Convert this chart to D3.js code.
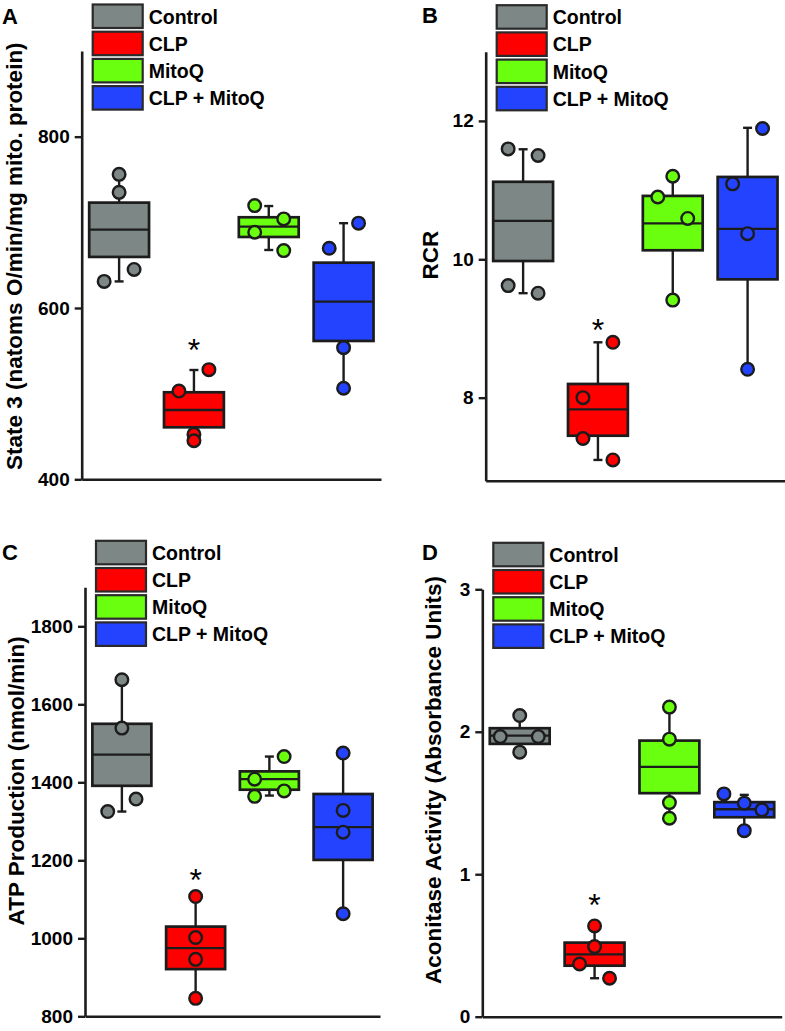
<!DOCTYPE html>
<html>
<head>
<meta charset="utf-8">
<script src="https://cdn.jsdelivr.net/npm/d3@7"></script>
<style>
  body { margin: 0; background: #fff; }
  svg { display: block; font-family: "Liberation Sans", Arial, sans-serif; font-weight: bold; }
</style>
</head>
<body>
<svg id="fig" width="785" height="1031"></svg>
<script>
const groups = ["Control", "CLP", "MitoQ", "CLP + MitoQ"];
const palette = ["#7d8785", "#fe0000", "#69ff0e", "#2443ff"];

// box stats per group: [q1, median, q3], whiskers [min, max]
const state3Box = [[659.6, 691.4, 723], [460.7, 480.9, 501.6], [682.9, 695, 705.9], [561.5, 607.4, 652.9]];
const state3Whisker = [[631, 756], [445, 527.6], [667.7, 719], [506.3, 699]];
const state3Points = [[756, 735, 645, 631], [528, 503, 452.5, 445], [719.5, 704, 688.4, 667], [699, 669.7, 553.7, 506.3]];
const state3Spread = [[0, 0, 0.5, -0.5], [0.5, -0.5, 0, 0], [-0.47, 0.5, -0.47, 0.5], [0.5, -0.48, 0, 0]];
const state3Ticks = [400, 600, 800];

const rcrBox = [[9.975, 10.555, 11.12], [7.45, 7.83, 8.198], [10.13, 10.52, 10.916], [9.71, 10.44, 11.19]];
const rcrWhisker = [[9.51, 11.59], [7.1, 8.8], [9.41, 11.195], [8.41, 11.9]];
const rcrPoints = [[11.595, 11.5, 9.62, 9.51], [8.8, 8.0, 7.41, 7.1], [11.2, 10.9, 10.59, 9.41], [11.89, 11.09, 10.37, 8.41]];
const rcrSpread = [[-0.5, 0.5, -0.5, 0.5], [0.5, -0.5, -0.5, 0.5], [0, -0.5, 0.5, 0], [0.5, -0.5, 0, 0]];
const rcrTicks = [8, 10, 12];

const atpBox = [[1391, 1471, 1550], [921, 975, 1030], [1381, 1408, 1428], [1201, 1285, 1370]];
const atpWhisker = [[1325, 1663], [846, 1107], [1366, 1466], [1063, 1475]];
const atpPoints = [[1663, 1539, 1357, 1325], [1107, 1002, 946, 846], [1466, 1408, 1378, 1364], [1475, 1328, 1272, 1063]];
const atpSpread = [[0, 0, 0.48, -0.48], [0, 0, 0, 0], [0.5, -0.5, 0.5, -0.5], [0, 0, 0, 0]];
const atpTicks = [800, 1000, 1200, 1400, 1600, 1800];

const aconBox = [[1.915, 1.973, 2.025], [0.358, 0.438, 0.52], [1.569, 1.753, 1.938], [1.40, 1.456, 1.506]];
const aconWhisker = [[1.857, 2.114], [0.27, 0.637], [1.393, 2.173], [1.306, 1.557]];
const aconPoints = [[2.114, 1.966, 1.966, 1.857], [0.637, 0.492, 0.37, 0.27], [2.173, 1.948, 1.503, 1.393], [1.564, 1.499, 1.452, 1.306]];
const aconSpread = [[0, -0.65, 0.62, 0], [0, 0, -0.5, 0.5], [0, 0, 0, 0], [-0.68, 0, 0.59, 0]];
const aconTicks = [0, 1, 2, 3];

// asterisk above CLP, in data units
const starLevel = [560, 9.1, 1171, 0.843];

const svg = d3.select("#fig");
const INK = "#1c1c1c";

function drawPanel(p) {
  const g = svg.append("g");
  const y = d3.scaleLinear().domain(p.domain).range([p.bottom, p.top]);
  const x = d3.scaleBand().domain(groups).range([p.left, p.right]).paddingInner(0.2).paddingOuter(0.1);
  const bw = x.bandwidth();

  // axes
  const ya = g.append("g").attr("transform", `translate(${p.left},0)`)
    .call(d3.axisLeft(y).tickValues(p.ticks).tickFormat(d3.format("d")).tickSize(7).tickPadding(5).tickSizeOuter(0));
  const xa = g.append("g").attr("transform", `translate(0,${p.bottom})`)
    .call(d3.axisBottom(x).tickSize(0).tickFormat("").tickSizeOuter(0));
  [ya, xa].forEach(a => {
    a.attr("font-size", "19px").attr("font-family", null);
    a.select(".domain").attr("stroke", INK).attr("stroke-width", 2.6);
    a.selectAll(".tick line").attr("stroke", INK).attr("stroke-width", 2.4);
    a.selectAll(".tick text").attr("fill", "#000");
  });

  groups.forEach((name, i) => {
    const cx = x(name) + bw / 2;
    const [q1, med, q3] = p.box[i];
    const [lo, hi] = p.whisker[i];
    const cg = g.append("g");
    cg.append("line").attr("x1", cx).attr("x2", cx).attr("y1", y(q3)).attr("y2", y(hi))
      .attr("stroke", INK).attr("stroke-width", 2.4);
    cg.append("line").attr("x1", cx).attr("x2", cx).attr("y1", y(q1)).attr("y2", y(lo))
      .attr("stroke", INK).attr("stroke-width", 2.4);
    [lo, hi].forEach(v => cg.append("line").attr("x1", cx - 4.5).attr("x2", cx + 4.5)
      .attr("y1", y(v)).attr("y2", y(v)).attr("stroke", INK).attr("stroke-width", 2.4));
    cg.append("rect").attr("x", x(name)).attr("width", bw)
      .attr("y", y(q3)).attr("height", y(q1) - y(q3))
      .attr("fill", palette[i]).attr("stroke", INK).attr("stroke-width", 2.7);
    cg.append("line").attr("x1", x(name)).attr("x2", x(name) + bw).attr("y1", y(med)).attr("y2", y(med))
      .attr("stroke", INK).attr("stroke-width", 2.3);
    cg.selectAll("circle").data(p.points[i]).enter().append("circle")
      .attr("cx", (d, j) => cx + p.spread[i][j] * bw / 2)
      .attr("cy", d => y(d))
      .attr("r", 6.3)
      .attr("fill", palette[i]).attr("stroke", INK).attr("stroke-width", 2.4);
  });

  g.append("text").attr("x", x("CLP") + bw / 2).attr("y", y(p.star) + 19)
    .attr("text-anchor", "middle").style("font-size", "32px").style("font-weight", "normal").text("*");

  // axis title
  g.append("text").attr("transform", `translate(${p.titleX},${(p.top + p.bottom) / 2 + p.titleDy}) rotate(-90)`)
    .attr("text-anchor", "middle").attr("dy", "0.35em").style("font-size", "22.5px").text(p.title);

  // panel letter
  g.append("text").attr("x", p.letterX).attr("y", p.letterY).style("font-size", "22px").text(p.letter);

  // legend
  const lx = p.left + 11, ly = p.top - 46.5;
  groups.forEach((name, i) => {
    g.append("rect").attr("x", lx).attr("y", ly + i * 27.2).attr("width", 50).attr("height", 23.5)
      .attr("fill", palette[i]).attr("stroke", "#2a2a2a").attr("stroke-width", 2.2);
    g.append("text").attr("x", lx + 56).attr("y", ly + i * 27.2 + 19)
      .style("font-size", "19.5px").text(name);
  });
}

drawPanel({ letter: "A", letterX: 2, letterY: 23.5, left: 81.7, right: 381, top: 51, bottom: 479.3,
  domain: [400, 900], ticks: state3Ticks, box: state3Box, whisker: state3Whisker, points: state3Points,
  spread: state3Spread, star: starLevel[0], title: "State 3 (natoms O/min/mg mito. protein)", titleX: 14, titleDy: -9 });
drawPanel({ letter: "B", letterX: 422, letterY: 23, left: 485.7, right: 785, top: 51.7, bottom: 480.7,
  domain: [6.8, 13], ticks: rcrTicks, box: rcrBox, whisker: rcrWhisker, points: rcrPoints,
  spread: rcrSpread, star: starLevel[1], title: "RCR", titleX: 430.5, titleDy: -11 });
drawPanel({ letter: "C", letterX: 2, letterY: 559.5, left: 85, right: 380, top: 587.3, bottom: 1016.3,
  domain: [800, 1900], ticks: atpTicks, box: atpBox, whisker: atpWhisker, points: atpPoints,
  spread: atpSpread, star: starLevel[2], title: "ATP Production (nmol/min)", titleX: 16, titleDy: -21 });
drawPanel({ letter: "D", letterX: 422, letterY: 559.5, left: 482.3, right: 781.7, top: 589.3, bottom: 1016.7,
  domain: [0, 3], ticks: aconTicks, box: aconBox, whisker: aconWhisker, points: aconPoints,
  spread: aconSpread, star: starLevel[3], title: "Aconitase Activity (Absorbance Units)", titleX: 433, titleDy: -23 });
</script>
</body>
</html>
